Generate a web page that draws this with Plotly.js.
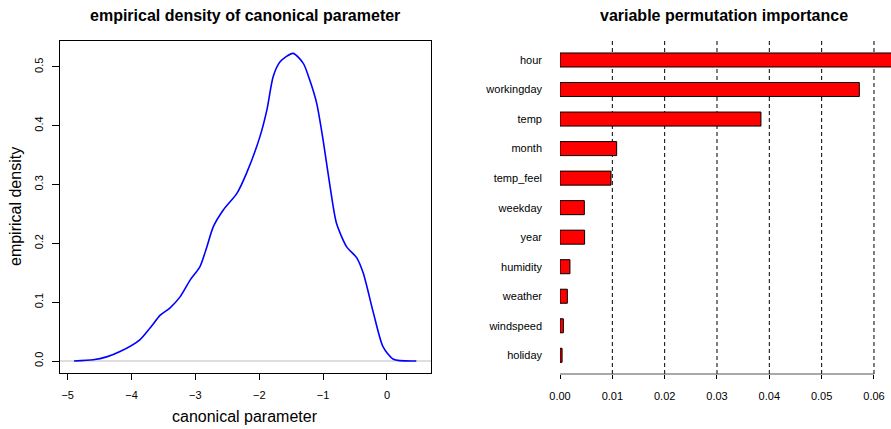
<!DOCTYPE html>
<html>
<head>
<meta charset="utf-8">
<script src="https://cdn.plot.ly/plotly-3.0.1.min.js"></script>
<style>html,body{margin:0;padding:0;background:#fff;}#chart{width:891px;height:429px;}</style>
</head>
<body>
<div id="chart"></div>
<script>
// density of canonical parameter
const densX = [-4.90, -4.60, -4.39, -4.18, -3.87, -3.71, -3.55, -3.40, -3.24, -3.08, -2.93, -2.82, -2.72, -2.56, -2.35, -2.20, -1.99, -1.88, -1.78, -1.67, -1.47, -1.31, -1.21, -1.10, -1.00, -0.89, -0.79, -0.63, -0.47, -0.37, -0.21, -0.06, 0.10, 0.46];
const densY = [0.000, 0.002, 0.007, 0.016, 0.036, 0.056, 0.078, 0.090, 0.109, 0.138, 0.160, 0.194, 0.228, 0.257, 0.285, 0.319, 0.381, 0.427, 0.484, 0.509, 0.523, 0.506, 0.478, 0.438, 0.376, 0.296, 0.234, 0.194, 0.175, 0.149, 0.081, 0.024, 0.003, 0.000];

// permutation importance (bottom to top)
const vars = ["holiday", "windspeed", "weather", "humidity", "year", "weekday", "temp_feel", "month", "temp", "workingday", "hour"];
const importance = [0.0004, 0.00064, 0.0014, 0.0019, 0.0047, 0.00465, 0.00975, 0.01083, 0.0384, 0.0572, 0.065];
const importanceTicks = [0, 0.01, 0.02, 0.03, 0.04, 0.05, 0.06];
const densXTicks = [-5, -4, -3, -2, -1, 0];
const densYTicks = [0, 0.1, 0.2, 0.3, 0.4, 0.5];

const W = 891, H = 429;
const font = "Liberation Sans, Arial, Helvetica, sans-serif";

const traces = [
  {
    type: "scatter", mode: "lines", x: densX, y: densY,
    line: {color: "#0000FF", width: 1.6, shape: "spline", smoothing: 0.7},
    xaxis: "x", yaxis: "y", hoverinfo: "x+y"
  },
  {
    type: "bar", orientation: "h", x: importance, y: vars,
    marker: {color: "#FF0000", line: {color: "#000000", width: 1}},
    width: 0.475, xaxis: "x2", yaxis: "y2"
  }
];

const shapes = [
  // zero baseline (abline h = 0)
  {type: "line", xref: "x domain", yref: "y", x0: 0, x1: 1, y0: 0, y1: 0,
   line: {color: "#BEBEBE", width: 1}, layer: "below"}
];
importanceTicks.slice(1).forEach(v => {
  shapes.push({type: "line", xref: "x2", yref: "y2 domain", x0: v, x1: v, y0: 0, y1: 1,
    line: {color: "#000000", width: 1, dash: "4px,3px"}, layer: "below"});
});
// x axis line of bar chart from first to last tick
shapes.push({type: "line", xref: "x2", yref: "y2 domain", x0: importanceTicks[0], x1: importanceTicks[importanceTicks.length-1], y0: 0, y1: 0,
  line: {color: "#555555", width: 1.2}});

const layout = {
  width: W, height: H,
  margin: {l: 0, r: 0, t: 0, b: 0},
  paper_bgcolor: "#ffffff", plot_bgcolor: "#ffffff",
  showlegend: false,
  font: {family: font, color: "#000000", size: 11},
  xaxis: {
    domain: [60/W, 431/W], range: [-5.12, 0.69], anchor: "y",
    tickvals: densXTicks, ticks: "outside", ticklen: 6, tickcolor: "#000",
    showline: true, mirror: true, linecolor: "#000", linewidth: 1,
    showgrid: false, zeroline: false, tickfont: {size: 11, family: font, color: "#000"},
    ticklabelstandoff: 6
  },
  yaxis: {
    domain: [(H-373)/H, (H-41)/H], range: [-0.0204, 0.544], anchor: "x",
    tickvals: densYTicks, tickformat: ".1f", tickangle: -90,
    ticks: "outside", ticklen: 7, tickcolor: "#000",
    showline: true, mirror: true, linecolor: "#000", linewidth: 1,
    showgrid: false, zeroline: false, tickfont: {size: 11, family: font, color: "#000"},
    ticklabelstandoff: 5
  },
  xaxis2: {
    domain: [560/W, 1], range: [0, (W-560)/5233], anchor: "y2",
    tickvals: importanceTicks, tickformat: ".2f", ticks: "outside", ticklen: 4, tickcolor: "#000",
    showline: false, showgrid: false, zeroline: false,
    tickfont: {size: 11, family: font, color: "#000"}, ticklabelstandoff: 8
  },
  yaxis2: {
    domain: [(H-374)/H, (H-39)/H], range: [-0.633, 10.711], anchor: "x2",
    type: "category", categoryorder: "array", categoryarray: vars,
    showline: false, showgrid: false, zeroline: false, ticks: "",
    tickfont: {size: 11, family: font, color: "#000"}, ticklabelstandoff: 17
  },
  shapes: shapes,
  annotations: [
    {text: "<b>empirical density of canonical parameter</b>", xref: "paper", yref: "paper",
     x: 245/W, y: 1 - 16/H, xanchor: "center", yanchor: "middle", showarrow: false,
     font: {size: 16, family: font, color: "#000"}},
    {text: "<b>variable permutation importance</b>", xref: "paper", yref: "paper",
     x: 724/W, y: 1 - 16/H, xanchor: "center", yanchor: "middle", showarrow: false,
     font: {size: 16, family: font, color: "#000"}},
    {text: "canonical parameter", xref: "paper", yref: "paper",
     x: 245/W, y: 1 - 416/H, xanchor: "center", yanchor: "middle", showarrow: false,
     font: {size: 16, family: font, color: "#000"}},
    {text: "empirical density", xref: "paper", yref: "paper",
     x: 15/W, y: 1 - 207/H, xanchor: "center", yanchor: "middle", showarrow: false, textangle: -90,
     font: {size: 16, family: font, color: "#000"}}
  ]
};

Plotly.newPlot("chart", traces, layout, {displayModeBar: false, staticPlot: true});
</script>
</body>
</html>
